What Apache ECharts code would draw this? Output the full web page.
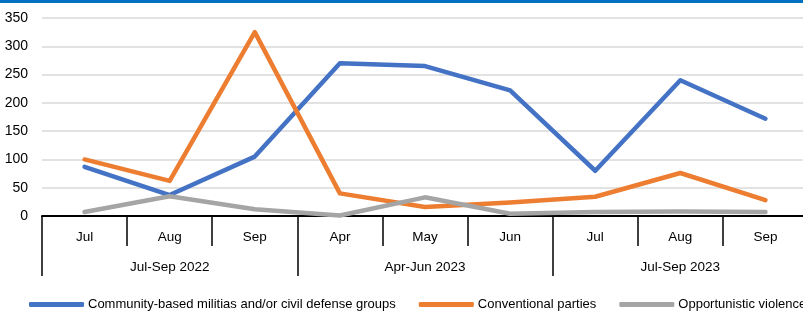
<!DOCTYPE html>
<html>
<head>
<meta charset="utf-8">
<script src="https://cdn.jsdelivr.net/npm/echarts@6/dist/echarts.min.js"></script>
<style>
  html, body { margin: 0; padding: 0; background: #fff; }
  #chart { width: 803px; height: 313px; }
</style>
</head>
<body>
<div id="chart"></div>
<script>
const months = ["Jul", "Aug", "Sep", "Apr", "May", "Jun", "Jul", "Aug", "Sep"];
const quarters = ["Jul-Sep 2022", "Apr-Jun 2023", "Jul-Sep 2023"];
const militias = [87, 37, 105, 270, 265, 222, 80, 240, 172];
const conventional = [100, 62, 325, 40, 16, 24, 34, 76, 28];
const opportunistic = [7, 35, 12, 1, 33, 4, 7, 8, 7];

const chart = echarts.init(document.getElementById("chart"));
const font = "Liberation Sans, Arial, sans-serif";

const lineSeries = (name, data, color) => ({
  name,
  type: "line",
  data,
  symbol: "none",
  color,
  lineStyle: { width: 4.5, color, cap: "round", join: "round" },
  xAxisIndex: 0,
});

chart.setOption({
  animation: false,
  textStyle: { fontFamily: font },
  graphic: [
    { type: "rect", shape: { x: 0, y: 0, width: 803, height: 3 }, style: { fill: "#0070C0" } },
  ],
  grid: { left: 42, width: 766, top: 18, bottom: 97, containLabel: false, outerBoundsMode: "none" },
  legend: {
    left: 24,
    top: 293,
    width: 1200,
    itemWidth: 55,
    itemHeight: 5,
    itemGap: 23,
    icon: "roundRect",
    textStyle: { fontSize: 13, color: "#000", fontFamily: font, padding: [0, 0, 0, -1] },
    data: ["Community-based militias and/or civil defense groups", "Conventional parties", "Opportunistic violence"],
  },
  yAxis: {
    type: "value",
    min: 0,
    max: 350,
    interval: 50,
    axisLine: { show: false },
    axisTick: { show: false },
    axisLabel: { fontSize: 14, color: "#000", margin: 14 },
    splitLine: { lineStyle: { color: "#D9D9D9", width: 1.5 } },
  },
  xAxis: [
    {
      type: "category",
      data: months,
      boundaryGap: true,
      axisLine: { lineStyle: { color: "#000", width: 2 } },
      axisTick: { show: true, length: 30, lineStyle: { color: "#000", width: 1.5 }, interval: 0 },
      axisLabel: { fontSize: 13.5, color: "#000", margin: 14, interval: 0 },
    },
    {
      type: "category",
      data: quarters,
      position: "bottom",
      offset: 30,
      boundaryGap: true,
      axisLine: { show: false },
      axisTick: { show: true, length: 30, lineStyle: { color: "#000", width: 1.5 }, interval: 0 },
      axisLabel: { fontSize: 13.5, color: "#000", margin: 14, interval: 0 },
    },
  ],
  series: [
    lineSeries("Community-based militias and/or civil defense groups", militias, "#4472C4"),
    lineSeries("Conventional parties", conventional, "#ED7D31"),
    lineSeries("Opportunistic violence", opportunistic, "#A5A5A5"),
  ],
});
</script>
</body>
</html>
